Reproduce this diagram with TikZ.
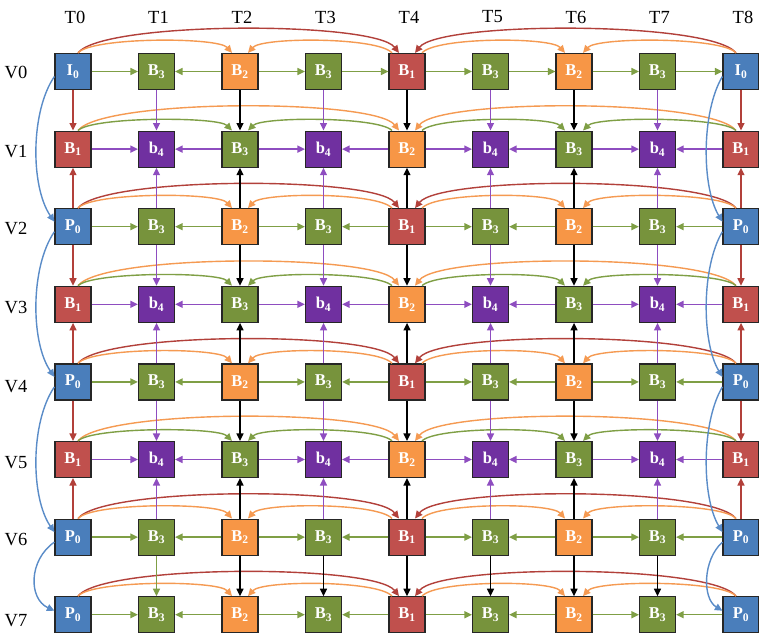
\documentclass[tikz,border=0pt]{standalone}
\usepackage{fontspec}
\setmainfont{Liberation Serif}
\usetikzlibrary{arrows.meta,calc}
\definecolor{cBl}{HTML}{4A7EBB}
\definecolor{cGr}{HTML}{77933C}
\definecolor{cOr}{HTML}{F79646}
\definecolor{cRe}{HTML}{C0504D}
\definecolor{cPu}{HTML}{7030A0}
\definecolor{aG}{HTML}{7F9F45}
\definecolor{aP}{HTML}{8E4DC0}
\definecolor{aR}{HTML}{B2403A}
\definecolor{aO}{HTML}{F59A52}
\definecolor{aB}{HTML}{5A8CC8}
\newcommand\evenrow[3]{%
  \foreach \i/\l/\s/\c in {0/#3/0/cBl,1/B/3/cGr,2/B/2/cOr,3/B/3/cGr,4/B/1/cRe,5/B/3/cGr,6/B/2/cOr,7/B/3/cGr,8/#3/0/cBl}
    \node[box, fill=\c] (n\i-#1) at ({73+83.5*\i},#2) {\l\textsubscript{\s}};}
\newcommand\oddrow[2]{%
  \foreach \i/\l/\s/\c in {0/B/1/cRe,1/b/4/cPu,2/B/3/cGr,3/b/4/cPu,4/B/2/cOr,5/b/4/cPu,6/B/3/cGr,7/b/4/cPu,8/B/1/cRe}
    \node[box, fill=\c] (n\i-#1) at ({73+83.5*\i},#2) {\l\textsubscript{\s}};}
% arc: color, src, dst, srcoff, dstoff, c1x, c2x, height
\newcommand\harc[8]{\draw[arr,#1] ($(#2.north)+(#4,0)$) .. controls +(#6,-#8) and +(#7,-#8) .. ($(#3.north)+(#5,0)$);}
\begin{document}
\begin{tikzpicture}[x=1pt,y=-1pt,
  box/.style={draw=black!85, line width=1.2pt, minimum size=36pt, inner sep=0pt, text=white,
    font=\fontsize{16.5}{16.5}\selectfont\bfseries},
  arr/.style={line width=1.4pt, -{Triangle[length=7.5pt,width=7pt]}},
  lab/.style={font=\fontsize{18.5}{18.5}\selectfont, inner sep=0pt}]
\clip (0,0) rectangle (759,633);
\useasboundingbox (0,0) rectangle (759,633);
\fill[white] (0,0) rectangle (759,633);
% labels
\foreach \i in {0,...,8} \node[lab] (t\i) at ({75+83.5*\i},17) {T\i};
\foreach \j/\dy in {0/1,1/2,2/2,3/3,4/5,5/3,6/2,7/6} \node[lab] (v\j) at (16,{71.5+77.6*\j+\dy}) {V\j};
% nodes
\evenrow{0}{71.5}{I}
\oddrow{1}{149.1}
\evenrow{2}{226.7}{P}
\oddrow{3}{304.3}
\evenrow{4}{381.9}{P}
\oddrow{5}{459.5}
\evenrow{6}{537.1}{P}
\evenrow{7}{614.7}{P}
% arcs
\foreach \j in {0,2,4,6,7} {
  \harc{aR}{n0-\j}{n4-\j}{5}{-8}{25}{-25}{32}
  \harc{aR}{n8-\j}{n4-\j}{-5}{8}{-25}{25}{32}
  \harc{aO}{n0-\j}{n2-\j}{5}{-8}{14}{-14}{16}
  \harc{aO}{n4-\j}{n2-\j}{-15}{8}{-14}{14}{16}
  \harc{aO}{n4-\j}{n6-\j}{15}{-9}{14}{-14}{16}
  \harc{aO}{n8-\j}{n6-\j}{-5}{9}{-14}{14}{16}
}
\foreach \j in {1,3,5} {
  \harc{aO}{n0-\j}{n4-\j}{5}{-8}{25}{-25}{32}
  \harc{aO}{n8-\j}{n4-\j}{-5}{8}{-25}{25}{32}
  \harc{aG}{n0-\j}{n2-\j}{5}{-8}{14}{-14}{14}
  \harc{aG}{n4-\j}{n2-\j}{-15}{8}{-14}{14}{14}
  \harc{aG}{n4-\j}{n6-\j}{15}{-9}{14}{-14}{14}
  \harc{aG}{n8-\j}{n6-\j}{-5}{9}{-14}{14}{14}
}
% horizontal arrows
\foreach \a/\b in {0/1,2/1,2/3,3/4,4/5,5/6,6/7,7/8} \draw[arr,aG] (n\a-0) -- (n\b-0);
\foreach \j in {2,4,6,7} \foreach \a/\b in {0/1,2/1,2/3,4/3,4/5,6/5,6/7,8/7} \draw[arr,aG] (n\a-\j) -- (n\b-\j);
\foreach \j in {1,3,5} \foreach \a/\b in {0/1,2/1,2/3,4/3,4/5,6/5,6/7,8/7} \draw[arr,aP] (n\a-\j) -- (n\b-\j);
% vertical arrows
\foreach \j in {1,3,5} {
  \pgfmathtruncatemacro\u{\j-1}
  \pgfmathtruncatemacro\d{\j+1}
  \foreach \i/\c in {0/aR,1/aP,2/black,3/aP,4/black,5/aP,6/black,7/aP,8/aR} {
    \draw[arr,\c] (n\i-\u) -- (n\i-\j);
    \draw[arr,\c] (n\i-\d) -- (n\i-\j);
  }
}
\foreach \i/\c in {1/aG,2/black,3/black,4/black,5/black,6/black,7/black} \draw[arr,\c] (n\i-6) -- (n\i-7);
% blue curves
\foreach \a/\b in {0/2,2/4,4/6} {
  \draw[arr,aB] ($(n0-\a.west)+(0,5)$) .. controls +(-24,35) and +(-24,-35) .. ($(n0-\b.west)+(0,-5)$);
  \draw[arr,aB] ($(n8-\a.west)+(0,5)$) .. controls +(-21,35) and +(-21,-35) .. ($(n8-\b.west)+(0,-5)$);
}
\draw[arr,aB] ($(n0-6.west)+(0,5)$) .. controls +(-26,18) and +(-26,-12) .. ($(n0-7.west)+(0,-4)$);
\draw[arr,aB] ($(n8-6.west)+(0,5)$) .. controls +(-20,18) and +(-20,-12) .. ($(n8-7.west)+(0,-4)$);
\end{tikzpicture}
\end{document}
